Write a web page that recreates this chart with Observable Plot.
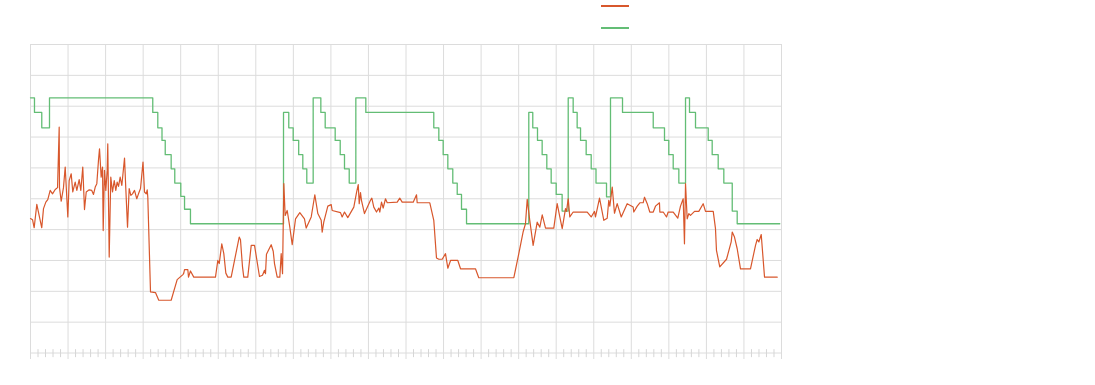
<!DOCTYPE html>
<html>
<head>
<meta charset="utf-8">
<script src="https://cdn.jsdelivr.net/npm/d3@7"></script>
<script src="https://cdn.jsdelivr.net/npm/@observablehq/plot@0.6"></script>
<style>
  body { margin: 0; background: #fff; font-family: "Noto Sans", sans-serif; }
  #wrap { position: relative; width: 1095px; height: 385px; }
  #legend { position: absolute; left: 601px; top: 0; width: 40px; height: 40px; }
  .sw { position: absolute; left: 0; width: 28px; height: 2px; }
  #chart { position: absolute; left: 0; top: 0; }
</style>
</head>
<body>
<div id="wrap">
  <div id="chart"></div>
  <div id="legend"></div>
</div>
<script>
// ---- data ----
const redX = [0,0.27,0.49,0.84,1.50,1.73,2.04,2.30,2.62,2.93,3.29,3.60,3.82,3.86,4.09,4.39,4.62,4.97,5.15,5.42,
  5.63,5.95,6.17,6.48,6.70,6.96,7.19,7.42,7.82,8.16,8.39,8.62,8.83,9.05,9.19,9.41,9.59,9.68,9.85,10.03,
  10.21,10.29,10.48,10.69,10.92,11.15,11.36,11.54,11.72,11.94,12.16,12.52,12.69,12.92,13.14,13.36,13.58,13.85,14.15,14.38,
  14.65,14.98,15.18,15.41,15.54,15.62,15.98,16.64,17.08,18.73,19.53,20.33,20.41,20.51,20.95,21.04,21.30,21.74,24.63,24.94,
  25.13,25.47,25.74,26.01,26.27,26.72,27.79,27.96,28.23,28.40,28.93,29.39,29.83,30.49,30.89,31.16,31.29,31.42,32.05,32.32,
  32.49,32.85,33.20,33.38,33.56,33.73,33.91,34.18,34.53,34.85,35.29,35.86,36.48,36.71,37.38,37.86,38.26,38.71,38.84,39.05,
  39.59,40.04,40.17,41.28,41.50,41.81,42.25,43.05,43.41,43.64,43.77,43.94,44.07,44.47,45.27,45.45,45.71,46.07,46.38,46.51,
  46.74,46.96,47.27,47.50,48.83,49.17,49.49,50.96,51.40,51.49,53.17,53.70,54.06,54.37,54.82,55.26,55.57,55.93,56.90,57.26,
  59.25,59.69,64.36,65.02,65.61,65.91,66.14,66.48,66.93,67.47,67.82,68.14,68.58,69.68,70.13,70.48,70.80,71.24,71.37,71.60,
  71.81,72.26,74.13,74.66,75.10,75.23,75.77,76.34,76.79,77.00,77.14,77.46,77.76,78.12,78.66,79.45,80.25,80.33,80.79,81.14,
  81.58,81.76,82.12,82.46,82.92,83.22,83.75,83.80,84.25,84.69,84.91,85.58,86.19,86.55,86.91,87.08,87.22,87.44,87.66,87.88,
  88.42,88.99,89.57,89.88,90.91,91.21,91.34,91.78,92.68,93.30,93.44,93.74,94.10,94.54,95.87,96.54,96.76,96.98,97.30,97.74,
  99.43];
const redY = [43.6,43.2,40.6,48.2,40.6,46.8,48.9,49.7,52.7,51.6,53.0,53.6,73.2,53.6,49.2,53.6,60.3,44.1,55.9,58.1,
  52.2,55.4,52.7,56.2,52.7,60.3,46.5,52.2,52.9,52.7,51.4,53.8,54.9,62.4,66.2,57.0,60.3,39.7,59.2,52.7,
  59.2,67.8,31.1,57.0,52.2,55.9,52.7,55.4,54.0,57.0,54.3,63.2,53.3,40.8,53.3,51.1,51.6,52.7,50.0,51.6,
  53.3,61.9,52.2,51.6,52.9,50.5,19.8,19.6,17.1,17.1,23.8,25.5,25.9,27.0,27.0,24.6,26.6,24.6,24.6,30.0,
  29.0,35.4,32.2,25.9,24.6,24.6,37.6,36.7,27.9,24.6,24.6,34.9,34.9,24.8,25.2,26.8,25.7,32.0,35.1,33.0,
  29.0,24.6,24.6,32.2,25.7,54.9,44.6,46.2,40.8,35.1,43.5,45.5,43.5,40.5,44.1,51.3,45.2,43.0,39.2,42.4,
  47.6,48.1,46.2,45.5,44.1,45.7,43.9,47.3,52.0,54.6,48.4,52.0,49.5,45.2,49.5,50.2,47.3,45.7,47.0,45.7,
  48.9,47.0,50.0,48.7,48.9,50.2,48.9,48.9,51.3,48.7,48.7,43.0,30.8,30.4,30.4,32.2,27.5,30.0,30.0,27.3,
  27.3,24.4,24.4,32.2,39.4,41.9,49.8,43.0,34.9,42.4,40.8,44.8,40.5,40.5,48.4,44.1,40.3,46.8,45.9,50.0,
  44.1,45.7,45.7,44.1,45.9,44.1,50.2,43.0,43.7,49.5,47.6,53.8,45.3,48.4,44.1,48.4,47.3,45.7,47.6,48.7,
  48.7,50.5,48.4,45.7,45.7,47.6,48.7,45.7,45.7,44.1,45.7,45.7,43.7,47.6,50.0,35.4,54.9,43.5,45.2,44.6,
  45.9,45.9,48.4,45.9,45.9,40.3,33.3,27.9,30.4,36.0,39.2,37.6,33.8,27.3,27.3,34.9,36.8,36.0,38.4,24.6,
  24.6];

const greenX = [0,0.53,1.50,2.53,16.28,16.95,17.51,17.94,18.73,19.21,20.01,20.51,21.30,
  33.69,34.39,34.98,35.71,36.26,36.79,37.64,38.66,39.24,40.57,41.24,41.81,42.44,43.32,44.65,
  53.70,54.37,54.95,55.57,56.23,56.82,57.39,58.06,
  66.35,66.88,67.51,68.13,68.75,69.33,70.00,70.79,71.60,72.26,72.79,73.24,73.99,74.66,75.30,76.70,
  77.23,78.83,82.92,84.42,84.99,85.58,86.33,87.22,87.75,88.55,90.24,90.77,91.57,92.32,93.44,94.10,99.77];
const greenY = [82.7,78.0,73.0,82.7,78.0,73.0,68.9,64.3,59.7,55.1,50.8,46.6,41.9,
  78.0,73.0,68.9,64.3,59.7,55.1,82.7,78.0,73.0,68.9,64.3,59.7,55.1,82.7,78.0,
  73.0,68.9,64.3,59.7,55.1,51.4,46.6,41.9,
  78.0,73.0,68.9,64.3,59.7,55.1,51.4,46.0,82.7,78.0,73.0,68.9,64.3,59.7,55.1,50.6,
  82.7,78.0,73.0,68.9,64.3,59.7,55.1,82.7,78.0,73.0,68.9,64.3,59.7,55.1,46.0,41.9,41.9];

const xGridTicks = d3.range(0, 101, 5);
const yGridTicks = d3.range(0, 101, 10);
const xMinorTicks = d3.range(0, 101, 1).filter(v => v % 5 !== 0);

const redColor = "#d8572c";
const greenColor = "#63bd75";

const red = redX.map((x, i) => ({x, y: redY[i]}));
const green = greenX.map((x, i) => ({x, y: greenY[i]}));

const chart = Plot.plot({
  width: 1095,
  height: 385,
  marginLeft: 30,
  marginRight: 314,
  marginTop: 44,
  marginBottom: 26,
  x: {domain: [0, 100], axis: null},
  y: {domain: [-2.1, 100], axis: null},
  marks: [
    Plot.ruleY(yGridTicks, {stroke: "#dcdcdc", strokeWidth: 1}),
    Plot.ruleX(xGridTicks, {stroke: "#dcdcdc", strokeWidth: 1}),
    Plot.ruleX(xMinorTicks, {y1: -1.5, y2: 1.1, stroke: "#d6d6d6", strokeWidth: 1}),
    Plot.line(green, {x: "x", y: "y", curve: "step-after", stroke: greenColor, strokeWidth: 1.3}),
    Plot.line(red, {x: "x", y: "y", stroke: redColor, strokeWidth: 1.2})
  ]
});
document.getElementById("chart").appendChild(chart);

const legend = document.getElementById("legend");
[[redColor, 5], [greenColor, 27]].forEach(([c, top]) => {
  const s = document.createElement("div");
  s.className = "sw";
  s.style.background = c;
  s.style.top = top + "px";
  legend.appendChild(s);
});
</script>
</body>
</html>
